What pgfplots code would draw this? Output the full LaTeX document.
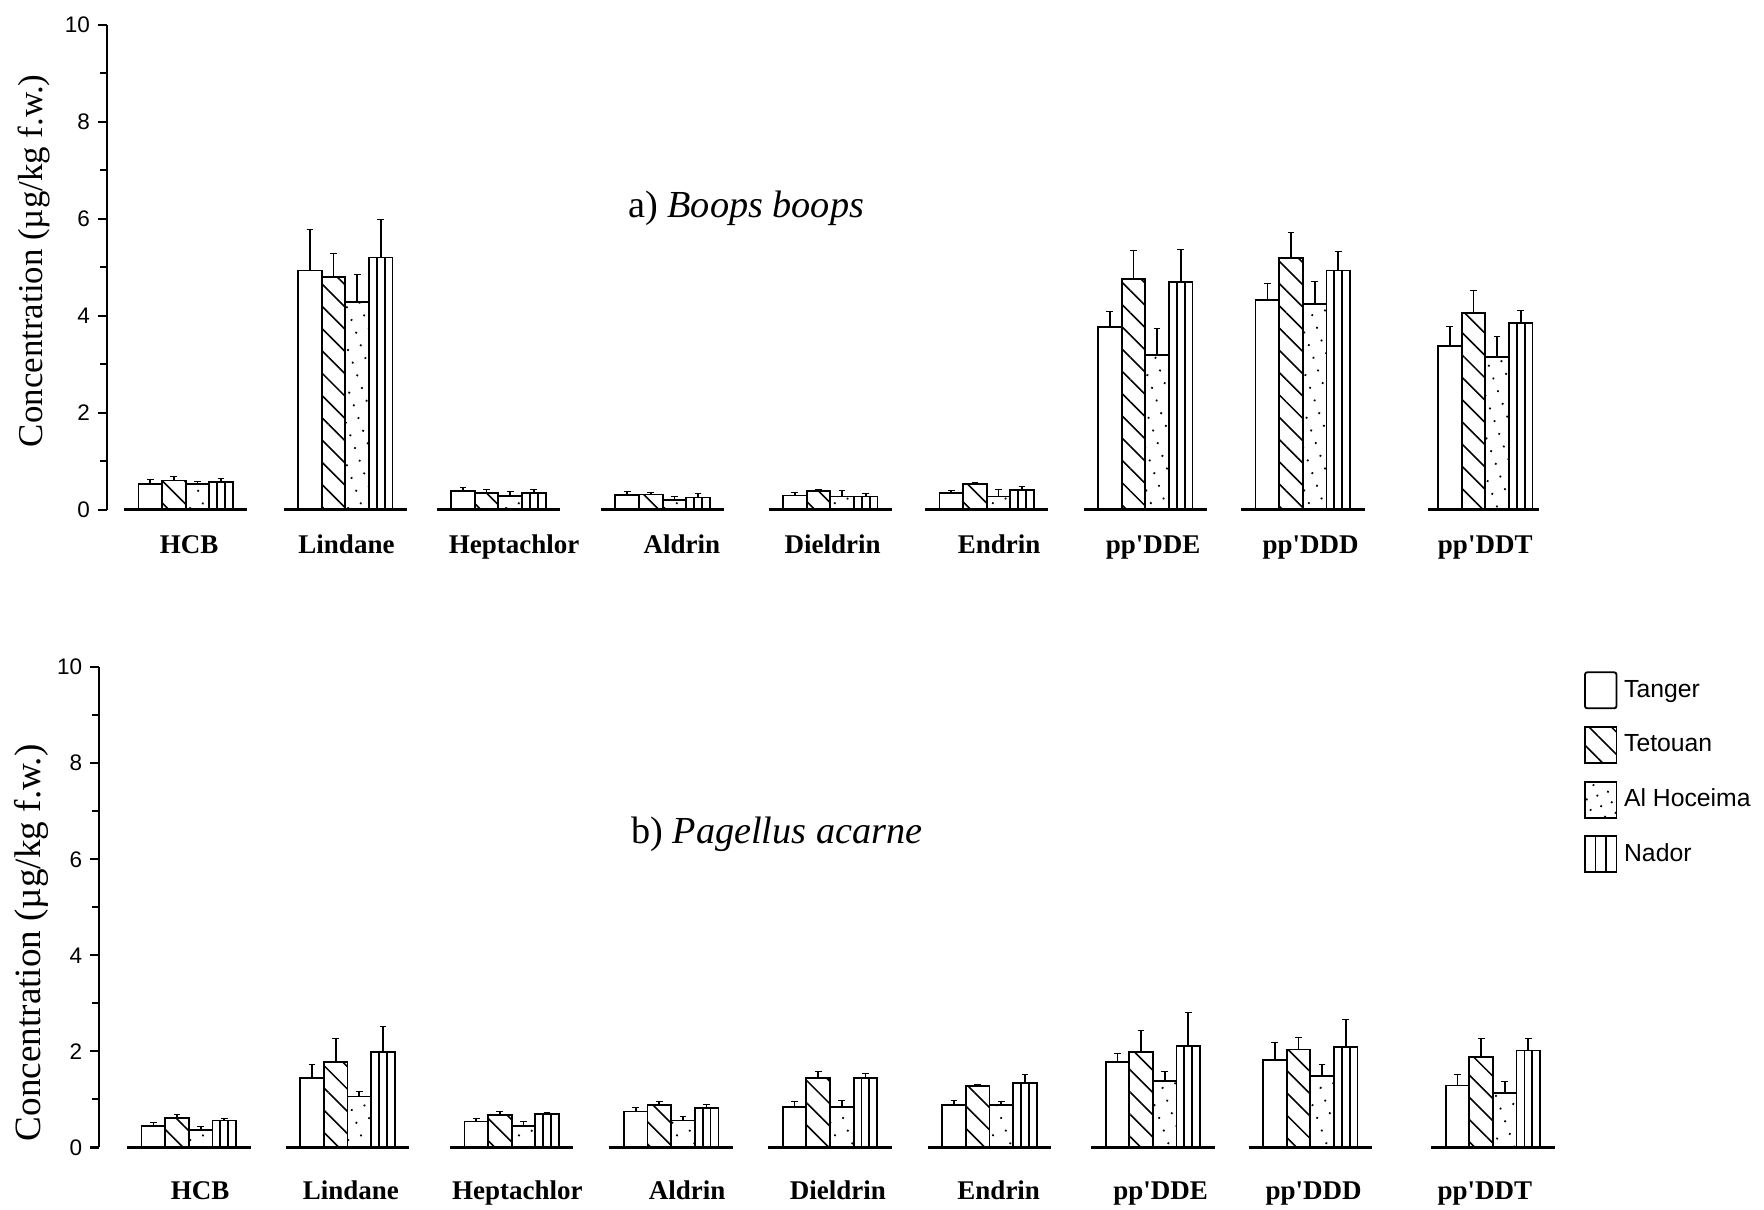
\documentclass[border=0pt]{standalone}
\usepackage{fontspec}
\setmainfont{Liberation Serif}
\setsansfont{Liberation Sans}
\usepackage{pgfplots}
\pgfplotsset{compat=1.18}
\usepackage{pgfplotstable}
\usetikzlibrary{patterns.meta}

\pgfplotstableread{
x     T    eT   Te   eTe  A    eA   N    eN
0     0.53 0.09 0.60 0.08 0.52 0.06 0.57 0.07
0.983 4.93 0.85 4.80 0.48 4.28 0.57 5.20 0.78
1.925 0.39 0.06 0.35 0.06 0.28 0.10 0.35 0.06
2.936 0.30 0.07 0.31 0.05 0.19 0.08 0.25 0.08
3.968 0.29 0.06 0.38 0.03 0.27 0.13 0.27 0.06
4.931 0.34 0.05 0.52 0.04 0.27 0.15 0.41 0.06
5.907 3.77 0.31 4.76 0.58 3.19 0.55 4.69 0.67
6.877 4.32 0.35 5.19 0.52 4.24 0.46 4.93 0.40
8.0   3.37 0.41 4.06 0.45 3.15 0.42 3.85 0.25
}\topdata

\pgfplotstableread{
x     T    eT   Te   eTe  A    eA   N    eN
0.02  0.45 0.07 0.61 0.08 0.36 0.07 0.56 0.04
0.997 1.44 0.28 1.78 0.48 1.06 0.10 1.99 0.52
2.008 0.54 0.06 0.67 0.09 0.45 0.09 0.69 0.04
2.99  0.75 0.09 0.89 0.07 0.56 0.09 0.82 0.08
3.968 0.84 0.11 1.45 0.14 0.84 0.13 1.45 0.10
4.95  0.89 0.08 1.28 0.03 0.88 0.08 1.34 0.18
5.956 1.78 0.17 1.99 0.44 1.38 0.20 2.11 0.71
6.925 1.82 0.37 2.04 0.25 1.49 0.24 2.09 0.57
8.05  1.29 0.23 1.88 0.38 1.13 0.25 2.02 0.25
}\botdata

\pgfplotsset{
  panel/.style={
    scale only axis, clip=false,
    ymin=0, ymax=10,
    axis x line=bottom, axis y line=left,
    axis line style={-},
    x axis line style={draw=none},
    y axis line style={line width=1.1pt},
    ytick={0,2,4,6,8,10},
    yticklabels={0,2,4,6,8,10},
    minor ytick={1,3,5,7,9},
    tick align=outside,
    major tick length=4pt, minor tick length=3pt,
    ytick style={line width=0.9pt, black},
    xtick style={draw=none},
    yticklabel style={font=\sffamily\fontsize{10}{12}\selectfont},
    xticklabel style={font=\bfseries\fontsize{12}{14}\selectfont, anchor=base},
    xticklabels={HCB,Lindane,Heptachlor,Aldrin,Dieldrin,Endrin,pp\textquotesingle DDE,pp\textquotesingle DDD,pp\textquotesingle DDT},
  },
  barbase/.style={ybar, bar width=10.5pt, draw=black, line width=0.8pt, forget plot},
  errs/.style={forget plot, draw=none, no markers,
    error bars/y dir=plus, error bars/y explicit,
    error bars/error bar style={line width=0.8pt, draw=black, solid, mark size=1.5pt}},
}

% 1 axis unit = 72.2pt: 15.75pt = 0.218, 5.25pt = 0.0727
\newcommand{\bars}[1]{%
  \addplot[barbase, bar shift=-15.75pt, fill=white] table[x=x,y=T]{#1};
  \addplot[barbase, bar shift=-5.25pt, pattern={Lines[angle=-45,distance=7pt,line width=0.7pt]}] table[x=x,y=Te]{#1};
  \addplot[barbase, bar shift=5.25pt, pattern={Dots[distance=6pt,radius=0.55pt,angle=20]}] table[x=x,y=A]{#1};
  \addplot[barbase, bar width=3.5pt, bar shift=12.25pt, fill=white] table[x=x,y=N]{#1};
  \addplot[barbase, bar width=3.5pt, bar shift=19.25pt, fill=white] table[x=x,y=N]{#1};
  \addplot[barbase, bar width=3.5pt, bar shift=15.75pt, fill=white] table[x=x,y=N]{#1};
  \addplot[errs] table[x expr=\thisrow{x}-0.218, y=T, y error=eT]{#1};
  \addplot[errs] table[x expr=\thisrow{x}-0.0727, y=Te, y error=eTe]{#1};
  \addplot[errs] table[x expr=\thisrow{x}+0.0727, y=A, y error=eA]{#1};
  \addplot[errs] table[x expr=\thisrow{x}+0.218, y=N, y error=eN]{#1};
}

\begin{document}
\begin{tikzpicture}
\useasboundingbox (0,0) rectangle (784pt,537.5pt);

% ---------- a) Boops boops ----------
\begin{axis}[panel,
  at={(47.5pt,311pt)}, anchor=south west,
  width=648.7pt, height=215.5pt,
  xmin=-0.485, xmax=8.5,
  xtick={0.021,0.990,2.022,3.054,3.982,5.007,5.956,6.925,8.0},
  xticklabel style={yshift=-15.5pt},
  ylabel={Concentration (µg/kg f.w.)},
  ylabel style={at={(axis description cs:-0.05,0.513)}, anchor=center, font=\fontsize{15.5}{17}\selectfont},
]
\bars{\topdata}
\addplot[black, line width=1.3pt, unbounded coords=jump, forget plot] coordinates {
 (-0.38,0) (0.38,0) (0.5,nan)
 (0.603,0) (1.363,0) (1.5,nan)
 (1.545,0) (2.305,0) (2.4,nan)
 (2.556,0) (3.316,0) (3.4,nan)
 (3.588,0) (4.348,0) (4.4,nan)
 (4.551,0) (5.311,0) (5.4,nan)
 (5.527,0) (6.287,0) (6.4,nan)
 (6.497,0) (7.257,0) (7.4,nan)
 (7.65,0) (8.33,0)
};
\node[font=\fontsize{17}{19}\selectfont] at (axis description cs:0.438,0.622) {a) \textit{Boops boops}};
\end{axis}

% ---------- b) Pagellus acarne ----------
\begin{axis}[panel,
  at={(44pt,27.5pt)}, anchor=south west,
  width=652pt, height=213.5pt,
  xmin=-0.533, xmax=8.5,
  xtick={0.09,1.018,2.043,3.089,4.017,5.007,6.004,6.946,8.0},
  xticklabel style={yshift=-19pt},
  ylabel={Concentration (µg/kg f.w.)},
  ylabel style={at={(axis description cs:-0.046,0.426)}, anchor=center, font=\fontsize{16.5}{18}\selectfont},
  legend style={draw=none, fill=none, at={(axis description cs:1.012,0.992)}, anchor=north west,
    row sep=7.5pt, font=\sffamily\fontsize{11}{13}\selectfont, inner sep=0pt,
    nodes={inner xsep=3pt}},
  legend cell align=left,
]
\addlegendimage{legend image code/.code={\draw[line width=0.8pt, rounded corners=1pt] (0pt,-8pt) rectangle (14pt,8pt);}}
\addlegendentry{Tanger}
\addlegendimage{legend image code/.code={\draw[line width=0.8pt, pattern={Lines[angle=-45,distance=7pt,line width=0.7pt]}] (0pt,-8pt) rectangle (14pt,8pt);}}
\addlegendentry{Tetouan}
\addlegendimage{legend image code/.code={\draw[line width=0.8pt, pattern={Dots[distance=5pt,radius=0.55pt,angle=20]}] (0pt,-8pt) rectangle (14pt,8pt);}}
\addlegendentry{Al Hoceima}
\addlegendimage{legend image code/.code={\draw[line width=0.8pt] (0pt,-8pt) rectangle (14pt,8pt); \draw[line width=0.8pt] (4.67pt,-8pt) -- (4.67pt,8pt); \draw[line width=0.8pt] (9.33pt,-8pt) -- (9.33pt,8pt);}}
\addlegendentry{Nador}
\bars{\botdata}
\addplot[black, line width=1.3pt, unbounded coords=jump, forget plot] coordinates {
 (-0.36,0) (0.40,0) (0.5,nan)
 (0.617,0) (1.377,0) (1.5,nan)
 (1.628,0) (2.388,0) (2.5,nan)
 (2.61,0) (3.37,0) (3.4,nan)
 (3.588,0) (4.348,0) (4.4,nan)
 (4.57,0) (5.33,0) (5.4,nan)
 (5.576,0) (6.336,0) (6.4,nan)
 (6.545,0) (7.305,0) (7.4,nan)
 (7.67,0) (8.43,0)
};
\node[font=\fontsize{17}{19}\selectfont] at (axis description cs:0.462,0.651) {b) \textit{Pagellus acarne}};
\end{axis}
\end{tikzpicture}
\end{document}
